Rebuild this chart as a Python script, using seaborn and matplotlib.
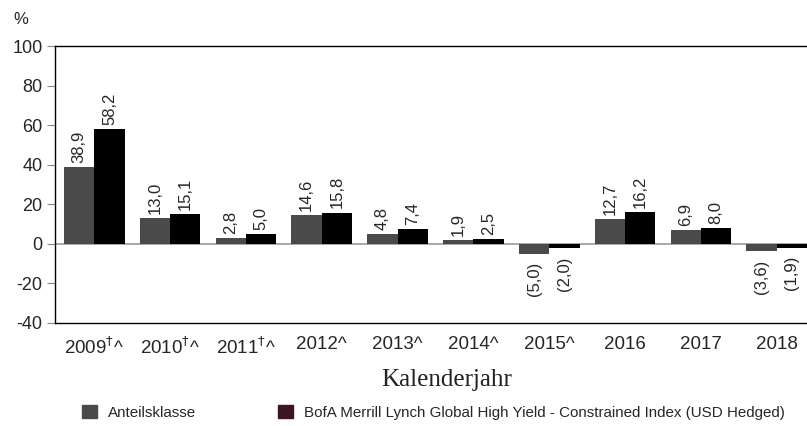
import pandas as pd
import matplotlib
matplotlib.use("Agg")
import matplotlib.pyplot as plt
import seaborn as sns
from matplotlib.patches import Patch

# data
years = ["2009$^{\u2020}$^", "2010$^{\u2020}$^", "2011$^{\u2020}$^", "2012^", "2013^",
         "2014^", "2015^", "2016", "2017", "2018"]
fund = [38.9, 13.0, 2.8, 14.6, 4.8, 1.9, -5.0, 12.7, 6.9, -3.6]
bench = [58.2, 15.1, 5.0, 15.8, 7.4, 2.5, -2.0, 16.2, 8.0, -1.9]
series_names = ["Anteilsklasse",
                "BofA Merrill Lynch Global High Yield - Constrained Index (USD Hedged)"]

df = pd.DataFrame({
    "Jahr": years * 2,
    "Wert": fund + bench,
    "Serie": [series_names[0]] * len(years) + [series_names[1]] * len(years),
})

sns.set_style("white")
plt.rcParams["font.family"] = ["Liberation Sans", "DejaVu Sans"]
plt.rcParams["axes.unicode_minus"] = False

fig = plt.figure(figsize=(8.07, 4.26), dpi=100)
ax = fig.add_axes([0.068, 0.2418, 0.932, 0.6502])

sns.barplot(data=df, x="Jahr", y="Wert", hue="Serie", order=years,
            palette=["#4a4a4a", "#000000"], width=0.8, saturation=1,
            linewidth=0, legend=False, ax=ax)

def fmt(v):
    s = f"{abs(v):.1f}".replace(".", ",")
    return f"({s})" if v < 0 else s

for cont in ax.containers:
    for bar in cont:
        v = bar.get_height()
        x = bar.get_x() + bar.get_width() / 2
        if v >= 0:
            ax.annotate(fmt(v), (x, v), xytext=(0, 3), textcoords="offset points",
                        rotation=90, ha="center", va="bottom", fontsize=12)
        else:
            ax.annotate(fmt(v), (x, v), xytext=(0, -6), textcoords="offset points",
                        rotation=90, ha="center", va="top", fontsize=12)

ax.axhline(0, color="#999999", lw=1.2, zorder=0)
ax.set_ylim(-40, 100)
ax.set_yticks(range(-40, 101, 20))
ax.set_xlim(-0.52, 9.4)
ax.set_xlabel("")
ax.set_ylabel("")
ax.tick_params(axis="y", left=True, length=6, color="#888888", labelsize=13, pad=3)
ax.tick_params(axis="x", bottom=False, labelsize=13.5, pad=6)
for s in ["left", "top", "bottom"]:
    ax.spines[s].set_visible(True)
    ax.spines[s].set_color("black")
    ax.spines[s].set_linewidth(1.0)
ax.spines["right"].set_visible(False)

fig.text(0.026, 0.955, "%", fontsize=12, ha="center", va="center")
fig.text(0.554, 0.108, "Kalenderjahr", fontsize=18, ha="center", va="center",
         family="Liberation Serif", color="#222222")

handles = [Patch(color="#4a4a4a"), Patch(color="#3b1426")]
fig.legend(handles, series_names, loc="center left", bbox_to_anchor=(0.1016, 0.032),
           ncol=2, frameon=False, fontsize=10.9, handlelength=1.0, handleheight=1.0,
           handletextpad=0.72, columnspacing=5.4, borderpad=0, borderaxespad=0)

fig.savefig("out.png", dpi=100)
